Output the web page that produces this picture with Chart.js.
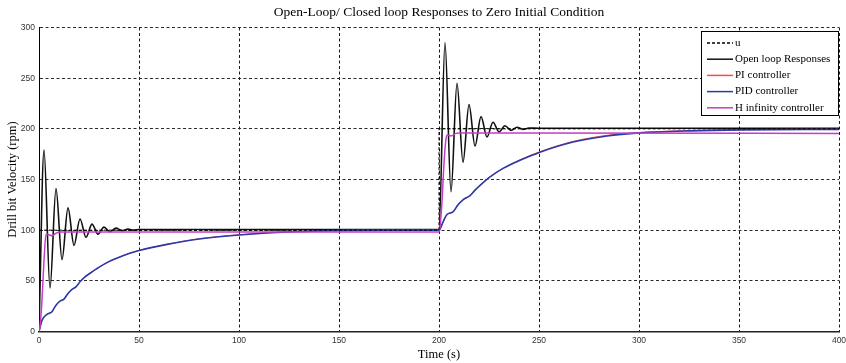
<!DOCTYPE html>
<html>
<head>
<meta charset="utf-8">
<script src="https://cdn.jsdelivr.net/npm/chart.js@4/dist/chart.umd.min.js"></script>
<style>
  html, body { margin: 0; padding: 0; background: #fff; }
  #wrap { width: 846px; height: 363px; }
</style>
</head>
<body>
<div id="wrap"><canvas id="c"></canvas></div>
<script>
const TITLE = 'Open-Loop/ Closed loop Responses to Zero Initial Condition';
const labels = ['u', 'Open loop Responses', 'PI controller', 'PID controller', 'H infinity controller'];
const xTicks = [0, 50, 100, 150, 200, 250, 300, 350, 400];
const yTicks = [0, 50, 100, 150, 200, 250, 300];

// reference input
const uT = [0, 200, 200, 400];
const uV = [100, 100, 200, 200];

// open loop
const openT = [0, 2.5, 5.5, 8.5, 11.5, 14.5, 17.5, 20.5, 23.5, 26.5, 29.5, 32.5, 35.5, 38.5, 41.5, 44.5, 47.5, 50,
  200, 203, 206, 209, 212, 215, 218, 221, 224, 227, 230, 233, 236, 239, 242, 245, 250, 400];
const openV = [0, 179, 43, 141, 71, 122, 85, 111, 93, 106, 96, 103, 98.5, 102, 99.5, 101, 100, 100.6,
  100.6, 285, 138, 245, 167, 224, 183, 212, 192, 206.5, 197, 203, 198.5, 201.5, 199.5, 200.8, 200.6, 200.6];

// PID
const pidT = [0, 1.5, 4, 6.5, 8.5, 10.5, 12.5, 14.5, 16.5, 18.5, 20.5, 23, 25.5, 28.5, 33.5, 38.5, 45, 50, 64, 80, 100, 122, 147, 175, 200,
  202, 204, 207, 209.5, 212, 215.5, 218, 221.5, 225.5, 232, 240.5, 250.5, 267, 284, 300.5, 325.5, 350.5, 400];
const pidV = [0, 11, 17, 19.5, 26, 30, 32, 37.5, 41.5, 44, 49, 54, 57.5, 61.5, 67.5, 72, 77, 80, 86, 91.3, 95.3, 98, 99.5, 100, 100,
  108, 115.5, 118, 125, 130, 134, 139.5, 146, 152.5, 161, 169, 177, 187, 193, 196, 198, 199, 199.5];

// PI (lies under the PID curve)
const piT = [0, 1.5, 4, 6.5, 8.5, 10.5, 12.5, 14.5, 16.5, 18.5, 20.5, 23, 25.5, 28.5, 33.5, 38.5, 45, 50, 64, 80, 100, 122, 147, 175, 200,
  202, 204, 207, 209.5, 212, 215.5, 218, 221.5, 225.5, 232, 240.5, 250.5, 267, 284, 300.5, 325.5, 350.5, 400];
const piV = [0, 11, 17, 19.5, 26, 30, 32, 37.5, 41.5, 44, 49, 54, 57.5, 61.5, 67.5, 72, 77, 80, 86, 91.5, 95.5, 98.3, 99.6, 100, 100,
  108, 115.5, 118, 125, 130, 134, 139.5, 146, 152.5, 161, 169.5, 177.5, 187.6, 193.6, 196.4, 198.3, 199.2, 199.6];

// H infinity
const hinfT = [0, 0.5, 1.5, 2.5, 3.5, 5, 6.5, 8.5, 10.5, 200, 200.5, 201.5, 202.5, 203.5, 204.2, 206, 208.5, 210, 400];
const hinfV = [0, 5, 31, 70, 96, 95.5, 94.5, 97, 98.3, 98.3, 103, 128, 166, 190, 194, 193, 195.5, 195.8, 195.5];

function pts(t, v){ return t.map((x, i) => ({ x: x, y: v[i] })); }

const serif = '"Liberation Serif", "Times New Roman", serif';
const sans = '"Liberation Sans", Arial, sans-serif';

const boxPlugin = {
  id: 'boxPlugin',
  afterDraw(chart){
    const ctx = chart.ctx, a = chart.chartArea;
    ctx.save();
    // title
    ctx.fillStyle = '#000';
    ctx.font = '13.5px ' + serif;
    ctx.textAlign = 'center';
    ctx.textBaseline = 'middle';
    ctx.fillText(TITLE, (a.left + a.right) / 2, 12);

    // legend
    const bx = 701, by = 31, bw = 137, bh = 84;
    ctx.fillStyle = '#fff';
    ctx.fillRect(bx, by, bw, bh);
    ctx.strokeStyle = '#000';
    ctx.lineWidth = 1;
    ctx.setLineDash([]);
    ctx.strokeRect(bx + 0.5, by + 0.5, bw, bh);
    ctx.font = '11px ' + serif;
    ctx.textAlign = 'left';
    chart.data.datasets.forEach((ds, i) => {
      const y = 43 + i * 16.2;
      ctx.beginPath();
      ctx.strokeStyle = ds.legendColor || ds.borderColor;
      ctx.lineWidth = 1.5;
      ctx.setLineDash(ds.borderDash || []);
      ctx.moveTo(707, y);
      ctx.lineTo(733, y);
      ctx.stroke();
      ctx.fillStyle = '#000';
      ctx.fillText(ds.label, 735, y);
    });
    ctx.restore();
  }
};

new Chart(document.getElementById('c'), {
  type: 'line',
  data: {
    datasets: [
      { label: labels[0], data: pts(uT, uV), borderColor: '#000', borderWidth: 1, borderDash: [3, 2], tension: 0, order: 1 },
      { label: labels[1], data: pts(openT, openV), borderColor: '#111', borderWidth: 1.6, cubicInterpolationMode: 'monotone', order: 5 },
      { label: labels[2], data: pts(piT, piV), borderColor: '#ff4a4a', borderWidth: 1, cubicInterpolationMode: 'monotone', order: 4 },
      { label: labels[3], data: pts(pidT, pidV), borderColor: '#2c3aa8', borderWidth: 1.6, cubicInterpolationMode: 'monotone', order: 3 },
      { label: labels[4], data: pts(hinfT, hinfV), borderColor: '#c63cc6', borderWidth: 1.5, cubicInterpolationMode: 'monotone', order: 2 }
    ]
  },
  options: {
    responsive: true,
    maintainAspectRatio: false,
    animation: false,
    layout: { padding: { top: 27.5, right: 7, left: 0, bottom: 0 } },
    elements: { point: { radius: 0 } },
    plugins: { legend: { display: false }, title: { display: false }, tooltip: { enabled: false } },
    scales: {
      x: {
        type: 'linear', min: 0, max: 400,
        afterBuildTicks: s => { s.ticks = xTicks.map(v => ({ value: v })); },
        afterFit: s => { s.height = 31.5; s.paddingLeft = 0; s.paddingRight = 0; },
        grid: { color: '#1a1a1a', lineWidth: 1, drawTicks: false },
        border: { display: true, color: '#222', width: 1.5, dash: [3, 2.5] },
        ticks: { color: '#333', font: { family: sans, size: 8.5 }, padding: 4, maxRotation: 0 },
        title: { display: true, text: 'Time (s)', color: '#000', font: { family: serif, size: 12.5 }, padding: { top: 0, bottom: 1 } }
      },
      y: {
        min: 0, max: 300,
        afterBuildTicks: s => { s.ticks = yTicks.map(v => ({ value: v })); },
        afterFit: s => { s.width = 39; s.paddingTop = 0; s.paddingBottom = 0; },
        grid: { color: '#2a2a2a', lineWidth: 1, drawTicks: false },
        border: { display: true, color: '#000', width: 1, dash: [3, 2.5] },
        ticks: { color: '#333', font: { family: sans, size: 8.5 }, padding: 4 },
        title: { display: true, text: 'Drill bit Velocity (rpm)', color: '#000', font: { family: serif, size: 12.5 }, padding: { top: 5.5, bottom: 0 } }
      }
    }
  },
  plugins: [boxPlugin]
});
</script>
</body>
</html>
